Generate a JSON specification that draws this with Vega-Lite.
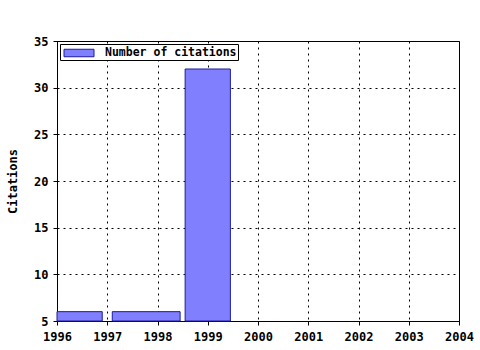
{
  "$schema": "https://vega.github.io/schema/vega-lite/v6.json",
  "autosize": {"type": "none"},
  "padding": {"left": 57, "top": 41, "right": 21, "bottom": 29},
  "width": 402,
  "height": 280,
  "background": "white",
  "config": {
    "view": {"stroke": "black", "strokeWidth": 1},
    "font": "DejaVu Sans Mono",
    "axis": {
      "domainColor": "black",
      "tickColor": "black",
      "gridColor": "black",
      "gridDash": [2, 4],
      "gridOpacity": 1,
      "gridWidth": 1,
      "labelFont": "DejaVu Sans Mono",
      "labelFontWeight": "bold",
      "labelFontSize": 12,
      "labelColor": "black",
      "titleFont": "DejaVu Sans Mono",
      "titleFontWeight": "bold",
      "titleFontSize": 12,
      "titleColor": "black"
    }
  },
  "data": {
    "values": [
      {"from": 1996.0, "to": 1996.9, "citations": 6, "series": "Number of citations"},
      {"from": 1997.1, "to": 1998.45, "citations": 6, "series": "Number of citations"},
      {"from": 1998.55, "to": 1999.45, "citations": 32, "series": "Number of citations"}
    ]
  },
  "mark": {"type": "bar", "stroke": "#1a1a9c", "strokeWidth": 1},
  "encoding": {
    "x": {
      "field": "from",
      "type": "quantitative",
      "scale": {"domain": [1996, 2004], "nice": false, "zero": false},
      "axis": {
        "title": null,
        "values": [1996, 1997, 1998, 1999, 2000, 2001, 2002, 2003, 2004],
        "format": "d",
        "tickSize": 4,
        "labelPadding": 6,
        "grid": true,
        "labelFlush": false
      }
    },
    "x2": {"field": "to"},
    "y": {
      "field": "citations",
      "type": "quantitative",
      "scale": {"domain": [5, 35], "nice": false, "zero": false},
      "axis": {
        "title": "Citations",
        "values": [5, 10, 15, 20, 25, 30, 35],
        "tickSize": 4,
        "labelPadding": 5,
        "titlePadding": 14,
        "grid": true
      }
    },
    "y2": {"datum": 5},
    "fill": {
      "field": "series",
      "type": "nominal",
      "scale": {"range": ["#8080ff"]},
      "legend": {
        "title": null,
        "orient": "top-left",
        "offset": 3,
        "padding": 1,
        "fillColor": "white",
        "strokeColor": "black",
        "symbolType": "M-2,-0.5H2V0.5H-2Z",
        "symbolSize": 225,
        "symbolOffset": 10,
        "labelOffset": 18,
        "symbolStrokeColor": "#1a1a9c",
        "symbolStrokeWidth": 1,
        "labelFont": "DejaVu Sans Mono",
        "labelFontWeight": "bold",
        "labelFontSize": 11.5,
        "labelColor": "black"
      }
    }
  }
}
